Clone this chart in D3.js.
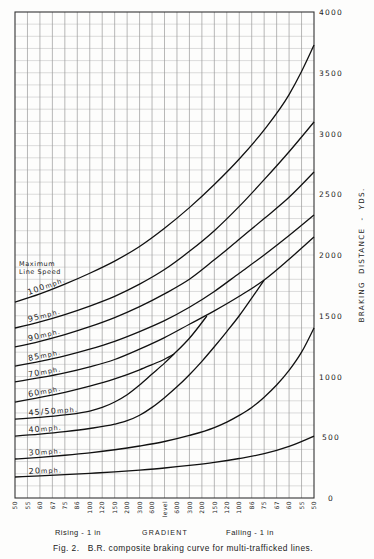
<!doctype html>
<html>
<head>
<style>
  body { margin: 0; background: #fdfdfc; }
  svg { display: block; }
  .grid-v { stroke: #9a9a9a; stroke-width: 0.7; }
  .grid-h { stroke: #c4c4c4; stroke-width: 0.6; }
  .curve { fill: none; stroke: #111; stroke-width: 1.3; }
  .lbl { font-family: "DejaVu Sans", sans-serif; fill: #222; }
</style>
<script src="https://d3js.org/d3.v7.min.js"></script>
</head>
<body>
<svg id="chart" width="374" height="559"></svg>
<script>
// gradient ticks, rising on the left, falling on the right
var gradients = ["50","55","60","67","75","86","100","120","150","200","300","600","level",
                 "600","300","200","150","120","100","86","75","67","60","55","50"];
var yTicks = [0, 500, 1000, 1500, 2000, 2500, 3000, 3500, 4000];

// braking distance (yds), [gradient position, yds]
var mph100 = [[0,1613],[2,1680],[4,1760],[6,1850],[8,1950],[10,2070],[12,2220],[14,2390],[16,2580],[18,2790],[20,3030],[22,3320],[23,3510],[24,3728]];
var mph95  = [[0,1399],[2,1450],[4,1510],[6,1580],[8,1660],[10,1760],[12,1880],[14,2030],[16,2200],[18,2400],[20,2620],[22,2850],[24,3095]];
var mph90  = [[0,1243],[2,1290],[4,1345],[6,1410],[8,1485],[10,1575],[12,1680],[14,1800],[16,1960],[18,2130],[20,2300],[22,2475],[24,2683]];
var mph85  = [[0,1086],[2,1125],[4,1170],[6,1225],[8,1290],[10,1370],[12,1460],[14,1570],[16,1700],[18,1850],[20,2000],[22,2160],[24,2329]];
var mph70  = [[0,955],[2,990],[4,1030],[6,1080],[8,1140],[10,1225],[12,1320],[14,1430],[16,1540],[18,1660],[20,1794],[22,1965],[24,2148]];
var mph60  = [[0,790],[2,828],[4,870],[6,920],[8,980],[10,1055],[11,1098],[12,1142],[12.76,1185]];
var mph45  = [[0,650],[2,664],[4,684],[6,715],[7,745],[8,790],[9,850],[10,930],[11,1020],[12,1110],[12.76,1185],[14,1315],[15.4,1498]];
var mph40  = [[0,510],[2,526],[4,546],[6,572],[8,608],[9,636],[10,681],[11,746],[12,826],[13,915],[14,1015],[15,1125],[16,1245],[17,1370],[18,1500],[19,1645],[20,1794]];
var mph30  = [[0,321],[2,335],[4,352],[6,372],[8,397],[10,428],[12,465],[14,515],[16,580],[17,625],[18,680],[19,745],[20,830],[21,930],[22,1050],[23,1200],[24,1400]];
var mph20  = [[0,173],[2,182],[4,192],[6,203],[8,215],[10,230],[12,247],[14,268],[16,293],[18,325],[20,365],[22,425],[24,510]];

var speedNames = ["100", "95", "90", "85", "70", "60", "45/50", "40", "30", "20"];
var speedCurves = [mph100, mph95, mph90, mph85, mph70, mph60, mph45, mph40, mph30, mph20];

var svg = d3.select("#chart");
var pl = 15, pr = 314, pt = 12, pb = 498;

var x = d3.scaleLinear().domain([0, gradients.length - 1]).range([pl, pr]);
var y = d3.scaleLinear().domain([0, 4000]).range([pb, pt]);

// horizontal grid every 100 yds
svg.append("g").selectAll("line")
   .data(d3.range(100, 4000, 100))
   .enter().append("line")
   .attr("class", "grid-h")
   .attr("x1", pl).attr("x2", pr)
   .attr("y1", function(d) { return y(d); })
   .attr("y2", function(d) { return y(d); });

// vertical grid at every gradient
svg.append("g").selectAll("line")
   .data(d3.range(1, gradients.length - 1))
   .enter().append("line")
   .attr("class", "grid-v")
   .attr("x1", function(d) { return x(d); })
   .attr("x2", function(d) { return x(d); })
   .attr("y1", pt).attr("y2", pb);

svg.append("rect")
   .attr("x", pl).attr("y", pt)
   .attr("width", pr - pl).attr("height", pb - pt)
   .attr("fill", "none").attr("stroke", "#333").attr("stroke-width", 1.1);

var line = d3.line()
    .x(function(d) { return x(d[0]); })
    .y(function(d) { return y(d[1]); })
    .curve(d3.curveMonotoneX);

svg.append("g").selectAll("path")
   .data(speedCurves)
   .enter().append("path")
   .attr("class", "curve")
   .attr("d", line);

// curve labels along the left end of each curve
function valueAt(data, p) {
    for (var i = 1; i < data.length; i++) {
        if (data[i][0] >= p) {
            var a = data[i - 1], b = data[i];
            return a[1] + (b[1] - a[1]) * (p - a[0]) / (b[0] - a[0]);
        }
    }
    return data[data.length - 1][1];
}

speedCurves.forEach(function(c, i) {
    var px = x(1.1), py = y(valueAt(c, 1.1)) - 2.5;
    var dx = x(3.5) - x(0.5), dy = y(valueAt(c, 3.5)) - y(valueAt(c, 0.5));
    var ang = Math.atan2(dy, dx) * 180 / Math.PI;
    var t = svg.append("text")
       .attr("class", "lbl")
       .attr("transform", "translate(" + px + "," + py + ") rotate(" + ang + ")")
       .attr("letter-spacing", "1.1px");
    t.append("tspan").attr("font-size", "8px").text(speedNames[i]);
    t.append("tspan").attr("font-size", "6.5px").text("mph.");
});

svg.append("text").attr("class", "lbl").attr("x", 19).attr("y", 266)
   .attr("font-size", "6.5px").attr("letter-spacing", "0.6px").text("Maximum");
svg.append("text").attr("class", "lbl").attr("x", 19).attr("y", 274)
   .attr("font-size", "6.5px").attr("letter-spacing", "0.6px").text("Line Speed");

// right hand distance scale
svg.append("g").selectAll("text")
   .data(yTicks)
   .enter().append("text")
   .attr("class", "lbl")
   .attr("x", 331)
   .attr("y", function(d) { return y(d) + 3; })
   .attr("text-anchor", "middle")
   .attr("font-size", "7.5px")
   .attr("letter-spacing", "1.2px")
   .text(function(d) { return d; });

svg.append("text").attr("class", "lbl")
   .attr("transform", "translate(364,255) rotate(-90)")
   .attr("text-anchor", "middle")
   .attr("font-size", "7.2px")
   .attr("letter-spacing", "1.3px")
   .attr("xml:space", "preserve")
   .text("BRAKING  DISTANCE  -  YDS.");

// gradient labels under the frame
svg.append("g").selectAll("text")
   .data(gradients)
   .enter().append("text")
   .attr("class", "lbl")
   .attr("transform", function(d, i) { return "translate(" + (x(i) + 2.2) + "," + (pb + 3) + ") rotate(-90)"; })
   .attr("text-anchor", "end")
   .attr("font-size", "6px")
   .attr("letter-spacing", "0.4px")
   .text(function(d) { return d; });

var sans = "'Liberation Sans', Arial, sans-serif";
svg.append("text").attr("x", 78).attr("y", 535).attr("text-anchor", "middle")
   .attr("font-family", sans).attr("font-size", "7.5px").attr("letter-spacing", "0.5px")
   .attr("fill", "#222").text("Rising - 1 in");
svg.append("text").attr("x", 165).attr("y", 535).attr("text-anchor", "middle")
   .attr("font-family", sans).attr("font-size", "7px").attr("letter-spacing", "1.2px")
   .attr("fill", "#222").text("GRADIENT");
svg.append("text").attr("x", 250).attr("y", 535).attr("text-anchor", "middle")
   .attr("font-family", sans).attr("font-size", "7.5px").attr("letter-spacing", "0.5px")
   .attr("fill", "#222").text("Falling - 1 in");

svg.append("text").attr("x", 53).attr("y", 551)
   .attr("font-family", sans).attr("font-size", "8.4px").attr("letter-spacing", "0.45px")
   .attr("fill", "#222").attr("xml:space", "preserve")
   .text("Fig. 2.   B.R. composite braking curve for multi-trafficked lines.");
</script>
</body>
</html>
